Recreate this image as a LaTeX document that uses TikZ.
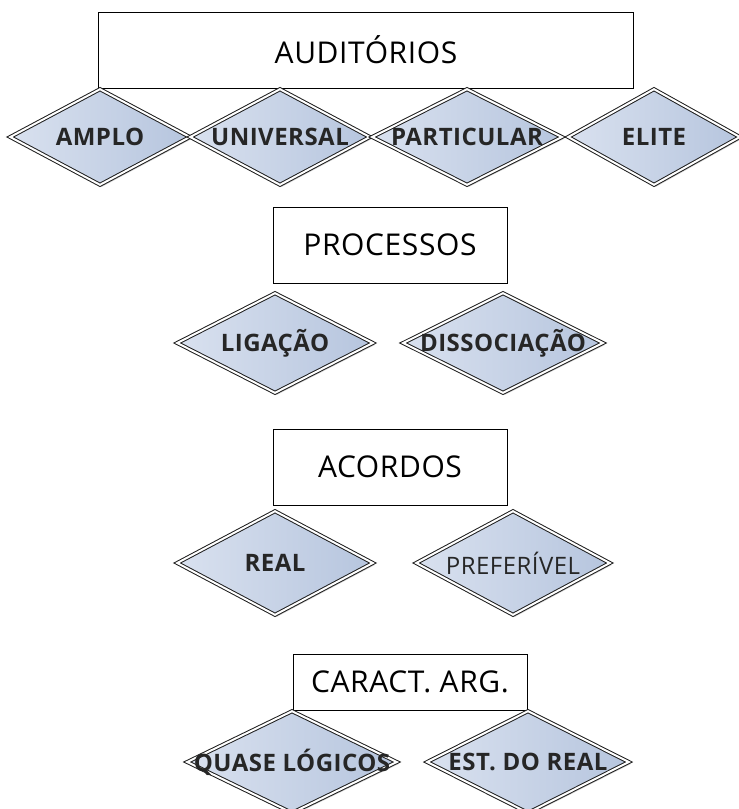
\documentclass[tikz,border=0pt]{standalone}
\usepackage{fontspec}
\setmainfont{Open Sans}
\newfontfamily\caixafont[LetterSpace=2]{Open Sans}
\newfontfamily\rotulofont[LetterSpace=2]{Open Sans}
\usetikzlibrary{shapes.geometric,shadows}

\definecolor{azulclaro}{HTML}{D9E1EF}
\definecolor{azulescuro}{HTML}{B6C5DE}
\definecolor{bordacinza}{HTML}{1E1E1E}

\tikzset{
  caixa/.style={draw=black, line width=1pt, fill=white, rectangle, inner sep=0pt,
    font=\caixafont\fontsize{30}{32}\selectfont},
  losango/.style={diamond, draw=bordacinza, line width=1pt, double=white, double distance=2pt,
    left color=azulclaro, right color=azulescuro, inner sep=0pt,
    drop shadow={shadow xshift=2pt, shadow yshift=-2pt, opacity=0.35},
    label={[font=\rotulofont\bfseries\fontsize{24}{26}\selectfont, text=black!85]center:#1}},
  losangofino/.style={diamond, draw=bordacinza, line width=1pt, double=white, double distance=2pt,
    left color=azulclaro, right color=azulescuro, inner sep=0pt,
    drop shadow={shadow xshift=2pt, shadow yshift=-2pt, opacity=0.35},
    label={[font=\rotulofont\fontsize{24}{26}\selectfont, text=black!85]center:#1}},
}

\begin{document}
\begin{tikzpicture}[x=1pt, y=-1pt]
 \useasboundingbox (0,0) rectangle (739,809);

 % auditorios
 \node[caixa, minimum width=535pt, minimum height=76pt] (auditorios) at (366,50) {AUDIT\'ORIOS};
 \node[losango=AMPLO, minimum width=180pt, minimum height=96pt] (amplo) at (100,137) {};
 \node[losango=UNIVERSAL, minimum width=180pt, minimum height=96pt] (universal) at (280,137) {};
 \node[losango=PARTICULAR, minimum width=190pt, minimum height=96pt] (particular) at (467,137) {};
 \node[losango=ELITE, minimum width=172pt, minimum height=96pt] (elite) at (654,137) {};

 % processos
 \node[caixa, minimum width=234pt, minimum height=76pt] (processos) at (390,245) {PROCESSOS};
 \node[losango=LIGAÇÃO, minimum width=196pt, minimum height=100pt] (ligacao) at (275,343) {};
 \node[losango=DISSOCIAÇÃO, minimum width=200pt, minimum height=100pt] (dissociacao) at (503,343) {};

 % acordos
 \node[caixa, minimum width=234pt, minimum height=76pt] (acordos) at (390,467) {ACORDOS};
 \node[losango=REAL, minimum width=196pt, minimum height=104pt] (real) at (275,563) {};
 \node[losangofino=PREFERÍVEL, minimum width=194pt, minimum height=104pt] (preferivel) at (513,563) {};

 % caracteristicas
 \node[caixa, minimum width=234pt, minimum height=56pt] (caract) at (410,682) {CARACT. ARG.};
 \node[losango=QUASE LÓGICOS, minimum width=210pt, minimum height=102pt] (quase) at (292,762) {};
 \node[losango=EST. DO REAL, minimum width=202pt, minimum height=102pt] (estreal) at (528,762) {};
\end{tikzpicture}
\end{document}
